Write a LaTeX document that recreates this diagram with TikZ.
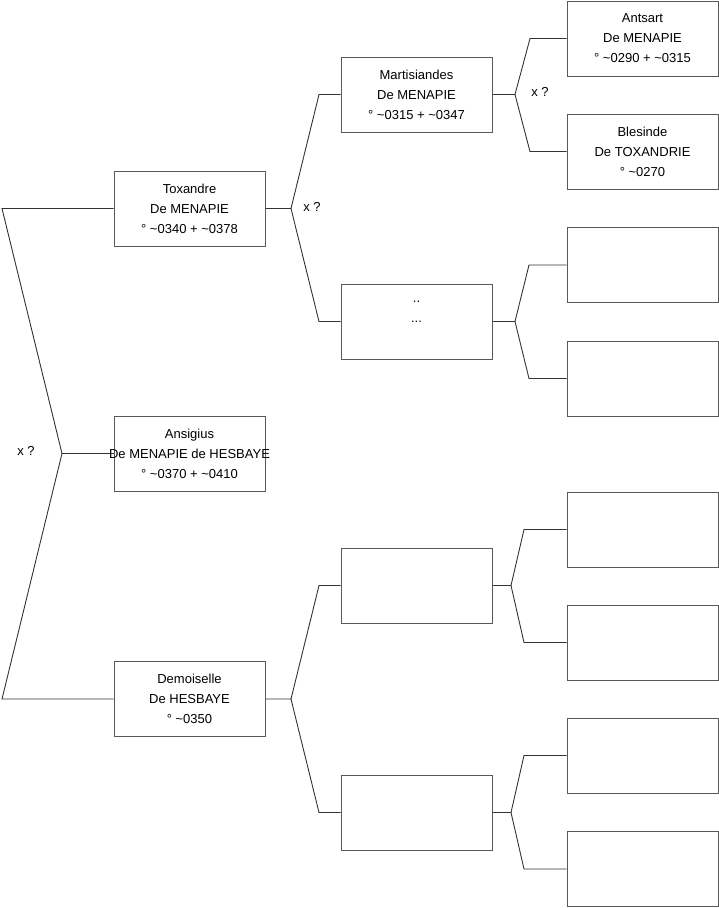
\documentclass[tikz,border=0pt]{standalone}
\usepackage{fontspec}
\setmainfont{Liberation Sans}
\begin{document}
\begin{tikzpicture}[x=1pt,y=-1pt,
  person/.style={draw=black!65,line width=1pt,fill=white,minimum width=151pt,minimum height=75pt,
    inner sep=0pt,align=center,font=\fontsize{13}{20}\selectfont},
  ptext/.style={inner sep=0pt,align=center,font=\fontsize{13}{20}\selectfont},
  link/.style={draw=black!80,line width=0.9pt},
  xq/.style={font=\fontsize{13}{16}\selectfont,inner sep=0pt}]
\useasboundingbox (0,0) rectangle (719,908);
% level 1
\node[person] (tox) at (189.5,208.5) {Toxandre\\De MENAPIE\\° \textasciitilde0340 + \textasciitilde0378};
\node[person] (ans) at (189.5,453.5) {};
\node[person] (dem) at (189.5,699) {Demoiselle\\De HESBAYE\\° \textasciitilde0350};
% level 2
\node[person] (mar) at (416.5,94.5) {Martisiandes\\De MENAPIE\\° \textasciitilde0315 + \textasciitilde0347};
\node[person] (dot) at (416.5,321.5) {..\\...\\\mbox{}};
\node[person] (e21) at (416.5,585.5) {};
\node[person] (e22) at (416.5,812.5) {};
% level 3
\node[person] (ant) at (642.5,38.5) {Antsart\\De MENAPIE\\° \textasciitilde0290 + \textasciitilde0315};
\node[person] (ble) at (642.5,151.5) {Blesinde\\De TOXANDRIE\\° \textasciitilde0270};
\node[person] (e31) at (642.5,265) {};
\node[person] (e32) at (642.5,378.5) {};
\node[person] (e33) at (642.5,529.5) {};
\node[person] (e34) at (642.5,642.5) {};
\node[person] (e35) at (642.5,755.5) {};
\node[person] (e36) at (642.5,869) {};
% connector coordinates
\coordinate (r0a) at (2,208.5);
\coordinate (r0b) at (62,453.5);
\coordinate (r0c) at (2,699);
\coordinate (b1) at (291,208.5);
\coordinate (b1u) at (319,94.5);
\coordinate (b1d) at (319,321.5);
\coordinate (b2) at (291,699);
\coordinate (b2u) at (319,585.5);
\coordinate (b2d) at (319,812.5);
\coordinate (b3) at (515,94.5);
\coordinate (b3u) at (530,38.5);
\coordinate (b3d) at (530,151.5);
\coordinate (b4) at (515,321.5);
\coordinate (b4u) at (529,265);
\coordinate (b4d) at (529,378.5);
\coordinate (b5) at (511,585.5);
\coordinate (b5u) at (524,529.5);
\coordinate (b5d) at (524,642.5);
\coordinate (b6) at (511,812.5);
\coordinate (b6u) at (524,755.5);
\coordinate (b6d) at (524,869);
% connectors
\draw[link] (tox.west) -- (r0a) -- (r0b) -- (r0c) -- (dem.west);
\draw[link] (r0b) -- (ans.west);
\draw[link] (tox.east) -- (b1) -- (b1u) -- (mar.west);
\draw[link] (b1) -- (b1d) -- (dot.west);
\draw[link] (dem.east) -- (b2) -- (b2u) -- (e21.west);
\draw[link] (b2) -- (b2d) -- (e22.west);
\draw[link] (mar.east) -- (b3) -- (b3u) -- (ant.west);
\draw[link] (b3) -- (b3d) -- (ble.west);
\draw[link] (dot.east) -- (b4) -- (b4u) -- (e31.west);
\draw[link] (b4) -- (b4d) -- (e32.west);
\draw[link] (e21.east) -- (b5) -- (b5u) -- (e33.west);
\draw[link] (b5) -- (b5d) -- (e34.west);
\draw[link] (e22.east) -- (b6) -- (b6u) -- (e35.west);
\draw[link] (b6) -- (b6d) -- (e36.west);
% Ansigius text, wider than its box, on top of the connector
\node[ptext] (anst) at (ans.center) {Ansigius\\De MENAPIE de HESBAYE\\° \textasciitilde0370 + \textasciitilde0410};
% labels
\node[xq] (x1) at (26,451) {x ?};
\node[xq] (x2) at (312,207) {x ?};
\node[xq] (x3) at (540,92) {x ?};
\end{tikzpicture}
\end{document}
